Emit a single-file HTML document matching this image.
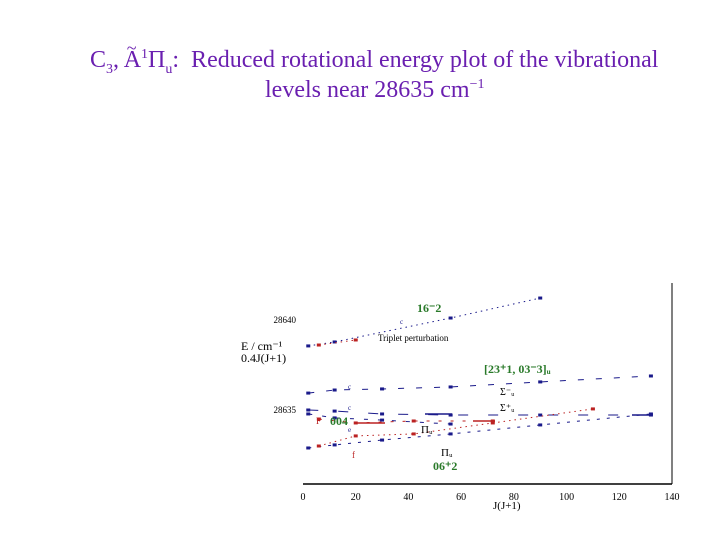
<!DOCTYPE html>
<html><head><meta charset="utf-8"><style>
body{margin:0;background:#fff;width:720px;height:540px;overflow:hidden;font-family:"Liberation Serif",serif}
#title{position:absolute;left:0;top:40px;width:720px;color:#6a1fb0;font-size:24px;line-height:30px}
</style></head><body>
<div id="title">
<div style="position:absolute;left:90px;top:0;white-space:nowrap">C<sub style="font-size:14px">3</sub>, <span style="position:relative">A<span style="position:absolute;left:3px;top:-14px;font-size:18px">~</span></span><sup style="font-size:14px">1</sup>Π<sub style="font-size:14px">u</sub>:&nbsp; Reduced rotational energy plot of the vibrational</div>
<div style="position:absolute;left:265px;top:30px;white-space:nowrap">levels near 28635 cm<sup style="font-size:14px">−1</sup></div>
</div>
<svg id="chart" width="720" height="540" style="position:absolute;left:0;top:0"></svg>
<script>
const xTicks=[0,20,40,60,80,100,120,140];
const yTicks=[28640,28635];
const jA=[2,12,56,90];const eA=[28638.56,28638.78,28640.11,28641.22];
const jAr=[6,20];const eAr=[28638.61,28638.89];
const jB=[2,12,30,56,90,132];const eB=[28635.94,28636.11,28636.17,28636.28,28636.56,28636.89];
const jC=[2,12,30,56,90,132];const eC=[28635.0,28634.94,28634.78,28634.72,28634.72,28634.72];
const jD=[2,12,30,56];const eD=[28634.78,28634.56,28634.44,28634.22];
const jE=[2,12,30,56,90,132];const eE=[28632.89,28633.06,28633.33,28633.67,28634.17,28634.78];
const jF=[6,20,42,72,110];const eF=[28633.0,28633.56,28633.67,28634.28,28635.06];
const jG=[6,20,42,72];const eG=[28634.5,28634.28,28634.39,28634.39];
const NS='http://www.w3.org/2000/svg';
const svg=document.getElementById('chart');
const xs=j=>303+j*(369/140);
const ys=e=>320+(28640-e)*18;
function mk(t,a,p){const el=document.createElementNS(NS,t);for(const k in a)el.setAttribute(k,a[k]);(p||svg).appendChild(el);return el;}
let el=mk('line',{x1:303,y1:484,x2:672,y2:484,stroke:'#000','stroke-width':1.5});


el=mk('line',{x1:672,y1:283,x2:672,y2:484,stroke:'#000','stroke-width':1});


xTicks.forEach(t=>{const e=mk('text',{x:xs(t),y:500,'font-size':10,'text-anchor':'middle','font-family':'Liberation Serif'});e.textContent=t;

});
yTicks.forEach(t=>{const e=mk('text',{x:296,y:ys(t)+3,'font-size':9,'text-anchor':'end','font-family':'Liberation Serif'});e.textContent=t;

});
function series(js,es,col,dash,name){
  const pts=js.map((j,i)=>xs(j)+','+ys(es[i])).join(' ');
  const l=mk('polyline',{points:pts,fill:'none',stroke:col,'stroke-width':1,'stroke-dasharray':dash});
  
  
  js.forEach((j,i)=>{const c=mk('rect',{x:xs(j)-2,y:ys(es[i])-1.5,width:4,height:3,fill:col});
  
  });
}
series(jA,eA,'#1a1a8a','1.5 4','series-16-2');
series(jAr,eAr,'#b22','1.5 4','series-16-2-red');
series(jB,eB,'#1a1a8a','6 12','series-sigma-minus');
series(jC,eC,'#1a1a8a','10 20','series-sigma-plus');
series(jD,eD,'#1a1a8a','4 10','series-pi-u');
series(jE,eE,'#1a1a8a','3 7','series-06-2');
series(jF,eF,'#b22','1.5 4','series-06-2-red');
series(jG,eG,'#b22','3 9','series-004');
el=mk('line',{x1:355,y1:423,x2:385,y2:423,stroke:'#b22','stroke-width':1.5});


el=mk('line',{x1:473,y1:421,x2:495,y2:421,stroke:'#b22','stroke-width':1.5});


el=mk('line',{x1:425,y1:414,x2:452,y2:414,stroke:'#1a1a8a','stroke-width':1.5});


el=mk('line',{x1:632,y1:415,x2:652,y2:415,stroke:'#1a1a8a','stroke-width':1.5});


const labels=[
 [417,312,'16⁻2','#2a7a2a',12,'bold'],[484,373,'[23⁺1, 03⁻3]ᵤ','#2a7a2a',12,'bold'],
 [330,425,'004','#2a7a2a',12,'bold'],[433,470,'06⁺2','#2a7a2a',12,'bold'],
 [378,341,'Triplet perturbation','#000',9,'normal'],[241,350,'E / cm⁻¹','#000',12,'normal'],
 [241,362,'0.4J(J+1)','#000',12,'normal'],[500,395,'Σ⁻ᵤ','#000',10,'normal'],[500,411,'Σ⁺ᵤ','#000',10,'normal'],
 [421,433,'Πᵤ','#000',11,'normal'],[441,456,'Πᵤ','#000',11,'normal'],[493,509,'J(J+1)','#000',11,'normal'],
 [316,424,'F','#b22',9,'normal'],[352,458,'f','#b22',9,'normal'],[400,324,'c','#1a1a8a',7,'normal'],
 [348,389,'c','#1a1a8a',7,'normal'],[348,410,'c','#1a1a8a',7,'normal'],[348,432,'e','#1a1a8a',7,'normal']];
labels.forEach(a=>{const t=mk('text',{x:a[0],y:a[1],fill:a[3],'font-size':a[4],'font-weight':a[5],'font-family':'Liberation Serif'});t.textContent=a[2];

});
</script>
</body></html>
